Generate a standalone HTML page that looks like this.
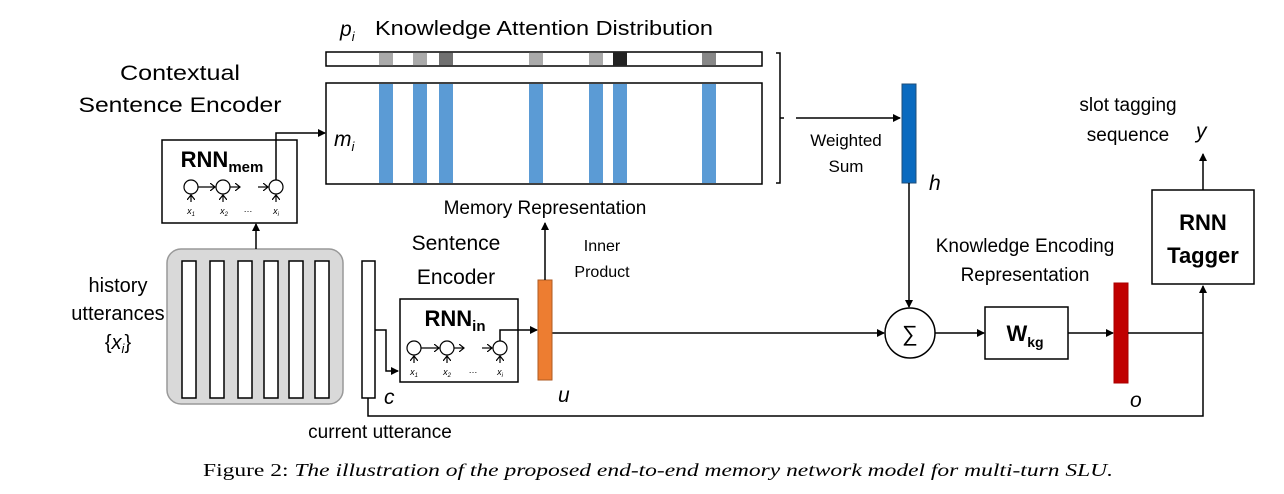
<!DOCTYPE html>
<html><head><meta charset="utf-8"><style>
html,body{margin:0;padding:0;background:#fff;}
svg{display:block;font-family:"Liberation Sans",sans-serif;}
</style></head><body>
<svg width="1284" height="494" viewBox="0 0 1284 494" xmlns="http://www.w3.org/2000/svg">
<defs>
<marker id="a" markerWidth="8" markerHeight="8" refX="7" refY="4" orient="auto" markerUnits="userSpaceOnUse"><path d="M0,0 L8,4 L0,8 z" fill="#000"/></marker>
<marker id="s" markerWidth="6" markerHeight="6" refX="5" refY="3" orient="auto" markerUnits="userSpaceOnUse"><path d="M0,0 L6,3 L0,6 z" fill="#000"/></marker>
<marker id="o" markerWidth="6" markerHeight="8" refX="5" refY="4" orient="auto" markerUnits="userSpaceOnUse"><path d="M0,0 L5,4 L0,8" fill="none" stroke="#000" stroke-width="1.2"/></marker>
</defs>
<g stroke="#000" stroke-width="1.5" fill="none">
<!-- attention bar -->
<rect x="326" y="52" width="436" height="14" fill="#fff"/>
<rect x="326" y="83" width="436" height="101" fill="#fff"/>
</g>
<g stroke="none">
<rect x="379" y="52.7" width="14" height="12.6" fill="#aaa"/>
<rect x="413" y="52.7" width="14" height="12.6" fill="#aaa"/>
<rect x="439" y="52.7" width="14" height="12.6" fill="#707070"/>
<rect x="529" y="52.7" width="14" height="12.6" fill="#aaa"/>
<rect x="589" y="52.7" width="14" height="12.6" fill="#aaa"/>
<rect x="613" y="52.7" width="14" height="12.6" fill="#222"/>
<rect x="702" y="52.7" width="14" height="12.6" fill="#888"/>
</g>
<g fill="#5b9bd5" stroke="none">
<rect x="379" y="84" width="14" height="99"/>
<rect x="413" y="84" width="14" height="99"/>
<rect x="439" y="84" width="14" height="99"/>
<rect x="529" y="84" width="14" height="99"/>
<rect x="589" y="84" width="14" height="99"/>
<rect x="613" y="84" width="14" height="99"/>
<rect x="702" y="84" width="14" height="99"/>
</g>
<g stroke="#000" stroke-width="1.5" fill="none">
<!-- bracket -->
<path d="M776,53 L780,53 L780,183 L776,183 M780,118 L784,118"/>
<line x1="796" y1="118" x2="900" y2="118" marker-end="url(#a)"/>
<!-- h -->
<rect x="902" y="84" width="14" height="99" fill="#0a6abf" stroke="#1f4e79" stroke-width="1"/>
<line x1="909" y1="183" x2="909" y2="307" marker-end="url(#a)"/>
<circle cx="910" cy="333" r="25" fill="#fff"/>
<line x1="552" y1="333" x2="884" y2="333" marker-end="url(#a)"/>
<line x1="935" y1="333" x2="984" y2="333" marker-end="url(#a)"/>
<rect x="985" y="307" width="83" height="52" fill="#fff"/>
<line x1="1068" y1="333" x2="1113" y2="333" marker-end="url(#a)"/>
<rect x="1114" y="283" width="14" height="100" fill="#c00000" stroke="#a00" stroke-width="1"/>
<line x1="1128" y1="333" x2="1203" y2="333"/>
<path d="M368,398 L368,416 L1203,416 L1203,286" marker-end="url(#a)"/>
<rect x="1152" y="190" width="102" height="94" fill="#fff"/>
<line x1="1203" y1="190" x2="1203" y2="154" marker-end="url(#a)"/>
<!-- history -->
<rect x="167" y="249" width="176" height="155" rx="14" fill="#d9d9d9" stroke="#999"/>
<rect x="182" y="261" width="14" height="137" fill="#fff"/>
<rect x="210" y="261" width="14" height="137" fill="#fff"/>
<rect x="238" y="261" width="14" height="137" fill="#fff"/>
<rect x="264" y="261" width="14" height="137" fill="#fff"/>
<rect x="289" y="261" width="14" height="137" fill="#fff"/>
<rect x="315" y="261" width="14" height="137" fill="#fff"/>
<line x1="256" y1="249" x2="256" y2="224" marker-end="url(#a)"/>
<!-- RNN mem -->
<rect x="162" y="140" width="135" height="83" fill="#fff"/>
<path d="M276,180 L276,133 L325,133" marker-end="url(#a)"/>
<!-- c -->
<rect x="362" y="261" width="13" height="137" fill="#fff"/>
<path d="M375,330 L386,330 L386,371 L398,371" marker-end="url(#a)"/>
<!-- RNN in -->
<rect x="400" y="299" width="118" height="83" fill="#fff"/>
<path d="M500,341 L500,330 L537,330" marker-end="url(#a)"/>
<rect x="538" y="280" width="14" height="100" fill="#ed7d31" stroke="#ae5a21" stroke-width="1"/>
<line x1="545" y1="280" x2="545" y2="223" marker-end="url(#a)"/>
</g>
<!-- small RNN cells -->
<g stroke="#000" stroke-width="1.2" fill="#fff">
<circle cx="191" cy="187" r="7"/><circle cx="223" cy="187" r="7"/><circle cx="276" cy="187" r="7"/>
<line x1="198" y1="187" x2="215" y2="187" marker-end="url(#o)"/>
<line x1="230" y1="187" x2="240" y2="187" marker-end="url(#o)"/>
<line x1="258" y1="187" x2="268" y2="187" marker-end="url(#o)"/>
<line x1="191" y1="202" x2="191" y2="195" marker-end="url(#o)"/>
<line x1="223" y1="202" x2="223" y2="195" marker-end="url(#o)"/>
<line x1="276" y1="202" x2="276" y2="195" marker-end="url(#o)"/>
<circle cx="414" cy="348" r="7"/><circle cx="447" cy="348" r="7"/><circle cx="500" cy="348" r="7"/>
<line x1="421" y1="348" x2="439" y2="348" marker-end="url(#o)"/>
<line x1="454" y1="348" x2="464" y2="348" marker-end="url(#o)"/>
<line x1="482" y1="348" x2="492" y2="348" marker-end="url(#o)"/>
<line x1="414" y1="363" x2="414" y2="356" marker-end="url(#o)"/>
<line x1="447" y1="363" x2="447" y2="356" marker-end="url(#o)"/>
<line x1="500" y1="363" x2="500" y2="356" marker-end="url(#o)"/>
</g>
<g font-size="9" font-style="italic" text-anchor="middle" fill="#000">
<text x="191" y="214">x<tspan font-size="6" dy="2">1</tspan></text>
<text x="224" y="214">x<tspan font-size="6" dy="2">2</tspan></text>
<text x="248" y="212" font-style="normal">…</text>
<text x="276" y="214">x<tspan font-size="6" dy="2">i</tspan></text>
<text x="414" y="375">x<tspan font-size="6" dy="2">1</tspan></text>
<text x="447" y="375">x<tspan font-size="6" dy="2">2</tspan></text>
<text x="473" y="373" font-style="normal">…</text>
<text x="500" y="375">x<tspan font-size="6" dy="2">i</tspan></text>
</g>
<g fill="#000" font-size="21" text-anchor="middle">
<text x="180" y="80" textLength="120" lengthAdjust="spacingAndGlyphs">Contextual</text>
<text x="180" y="112" textLength="203" lengthAdjust="spacingAndGlyphs">Sentence Encoder</text>
<text x="456" y="250">Sentence</text>
<text x="456" y="284">Encoder</text>
<text x="118" y="292" font-size="20">history</text>
<text x="118" y="320" font-size="20">utterances</text>
<text x="118" y="349" font-size="20">{<tspan font-style="italic">x<tspan font-size="13" dy="4">i</tspan></tspan><tspan dy="-4">}</tspan></text>
<text x="545" y="214" font-size="19">Memory Representation</text>
<text x="602" y="251" font-size="16">Inner</text>
<text x="602" y="277" font-size="16">Product</text>
<text x="380" y="438" font-size="19">current utterance</text>
<text x="846" y="146" font-size="17">Weighted</text>
<text x="846" y="172" font-size="17">Sum</text>
<text x="1025" y="252" font-size="19">Knowledge Encoding</text>
<text x="1025" y="281" font-size="19">Representation</text>
<text x="1128" y="111" font-size="19">slot tagging</text>
<text x="1128" y="141" font-size="19">sequence</text>
<text x="910" y="341" font-size="22">∑</text>
<text x="1025" y="341" font-weight="bold" font-size="22">W<tspan font-size="14" dy="6">kg</tspan></text>
<text x="1203" y="230" font-weight="bold" font-size="22">RNN</text>
<text x="1203" y="263" font-weight="bold" font-size="22">Tagger</text>
<text x="222" y="167" font-weight="bold" font-size="22" text-anchor="middle">RNN<tspan font-size="15" dy="5">mem</tspan></text>
<text x="455" y="326" font-weight="bold" font-size="22">RNN<tspan font-size="15" dy="5">in</tspan></text>
</g>
<g fill="#000" font-size="21" font-style="italic">
<text x="340" y="36">p<tspan font-size="13" dy="5">i</tspan></text>
<text x="375" y="35" font-style="normal" font-size="20" textLength="338" lengthAdjust="spacingAndGlyphs">Knowledge Attention Distribution</text>
<text x="334" y="146">m<tspan font-size="13" dy="5">i</tspan></text>
<text x="929" y="190">h</text>
<text x="384" y="404">c</text>
<text x="558" y="402">u</text>
<text x="1130" y="407">o</text>
<text x="1196" y="138">y</text>
</g>
<text x="203" y="476" font-family="Liberation Serif, serif" font-size="18" textLength="910" lengthAdjust="spacingAndGlyphs">Figure 2: <tspan font-style="italic">The illustration of the proposed end-to-end memory network model for multi-turn SLU.</tspan></text>
</svg>
</body></html>
